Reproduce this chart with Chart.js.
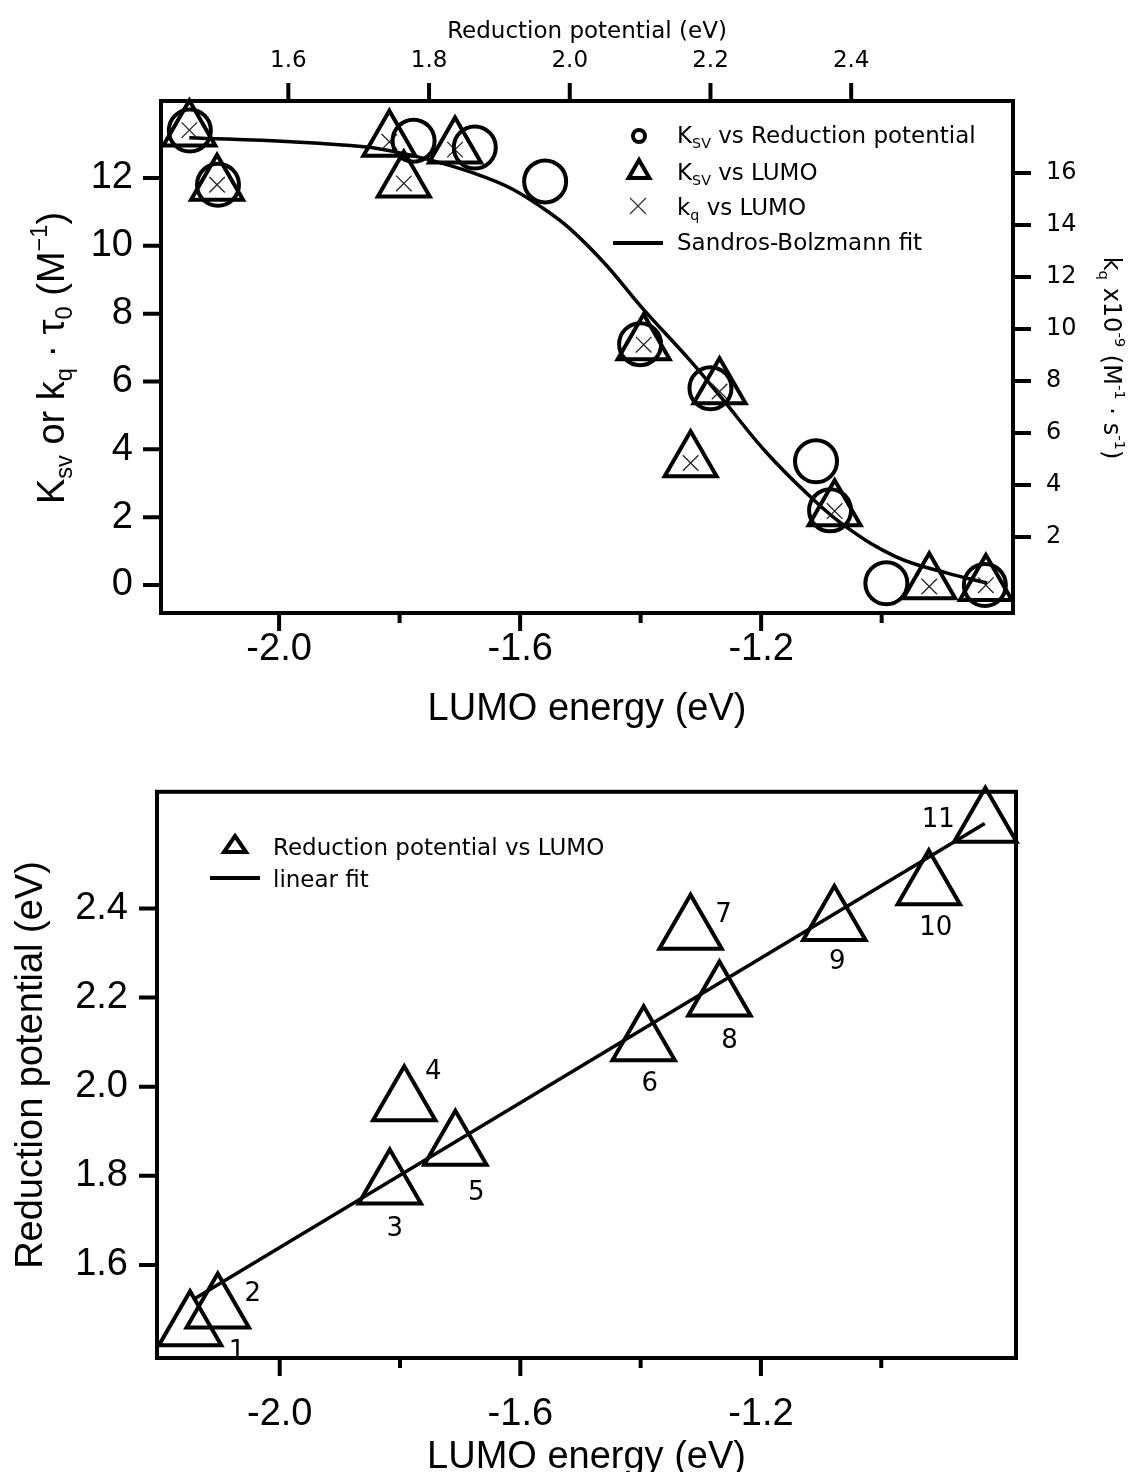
<!DOCTYPE html>
<html>
<head>
<meta charset="utf-8">
<script src="https://cdn.jsdelivr.net/npm/chart.js@4.4.1/dist/chart.umd.min.js"></script>
<style>
html, body { margin: 0; padding: 0; background: #fff; }
#top { position: absolute; left: 0; top: 0; }
#bot { position: absolute; left: 0; top: 740px; }
</style>
</head>
<body>
<canvas id="top" width="1135" height="740"></canvas>
<canvas id="bot" width="1135" height="732"></canvas>
<script>
// compounds 1..11
var compound = ['1', '2', '3', '4', '5', '6', '7', '8', '9', '10', '11'];
var lumo = [-2.149, -2.103, -1.817, -1.793, -1.708, -1.395, -1.317, -1.269, -1.078, -0.921, -0.827];
var redPot = [1.46, 1.50, 1.778, 1.965, 1.865, 2.10, 2.35, 2.20, 2.37, 2.45, 2.59];
var ksv = [13.4, 11.8, 13.1, 11.9, 12.9, 7.1, 3.65, 5.8, 2.2, 0.05, 0.0];
var kq = [17.65, 15.55, 17.2, 15.6, 16.9, 9.4, 4.85, 7.6, 3.0, 0.1, 0.15];

// Sandros-Bolzmann fit
var fitLumo = [-2.149, -1.980, -1.859, -1.799, -1.739, -1.678, -1.618, -1.563, -1.517, -1.458, -1.399, -1.318, -1.265, -1.192, -1.120, -1.061, -0.976, -0.891, -0.825];
var fitKsv = [13.19, 13.07, 12.92, 12.74, 12.48, 12.15, 11.72, 11.12, 10.5, 9.45, 8.2, 6.62, 5.5, 3.92, 2.63, 1.74, 0.83, 0.35, 0.06];

// linear fit of reduction potential vs LUMO
var linLumo = [-2.143, -0.828];
var linRed = [1.523, 2.591];

// ticks
var lumoTicks = [-2.0, -1.8, -1.6, -1.4, -1.2, -1.0];
var lumoTickLabels = ['-2.0', '', '-1.6', '', '-1.2', ''];
var redTicks = [1.6, 1.8, 2.0, 2.2, 2.4];
var redTickLabels = ['1.6', '1.8', '2.0', '2.2', '2.4'];
var ksvTicks = [0, 2, 4, 6, 8, 10, 12];
var ksvTickLabels = ['0', '2', '4', '6', '8', '10', '12'];
var kqTicks = [2, 4, 6, 8, 10, 12, 14, 16];
var kqTickLabels = ['2', '4', '6', '8', '10', '12', '14', '16'];

var BIG = 'Liberation Sans';
var SMALL = 'DejaVu Sans';

function pts(xs, ys) {
    return xs.map(function (x, i) { return { x: x, y: ys[i] }; });
}

function setTicks(values) {
    return function (s) { s.ticks = values.map(function (v) { return { value: v }; }); };
}

function axis(pos, min, max, values, labels, size, fam, pad, fit) {
    return {
        type: 'linear', position: pos, min: min, max: max,
        afterBuildTicks: setTicks(values),
        afterFit: function (s) {
            if (pos === 'top' || pos === 'bottom') s.height = fit; else s.width = fit;
        },
        ticks: {
            autoSkip: false, maxRotation: 0, padding: pad, color: '#000',
            font: { family: fam, size: size },
            callback: function (v, i) { return labels[i]; }
        },
        grid: { display: false, drawTicks: false },
        border: { display: false }
    };
}

function drawTicks(chart, id, values, labels) {
    var s = chart.scales[id], a = chart.chartArea, ctx = chart.ctx;
    ctx.beginPath();
    values.forEach(function (v, i) {
        var l = labels[i] ? 18 : 10;
        var p = s.getPixelForValue(v);
        if (s.position === 'bottom') { ctx.moveTo(p, a.bottom); ctx.lineTo(p, a.bottom + l); }
        else if (s.position === 'top') { ctx.moveTo(p, a.top); ctx.lineTo(p, a.top - l); }
        else if (s.position === 'left') { ctx.moveTo(a.left, p); ctx.lineTo(a.left - l, p); }
        else { ctx.moveTo(a.right, p); ctx.lineTo(a.right + l, p); }
    });
    ctx.stroke();
}

// parts: [text, mode] with mode 0 normal, -1 subscript, 1 superscript
function drawRich(ctx, parts, x, y, size, fam, align) {
    var w = 0;
    parts.forEach(function (p) {
        ctx.font = (p[1] ? size * 0.62 : size) + 'px "' + fam + '"';
        w += ctx.measureText(p[0]).width;
    });
    var cx = align === 'center' ? x - w / 2 : x;
    ctx.textAlign = 'left';
    ctx.textBaseline = 'alphabetic';
    ctx.fillStyle = '#000';
    parts.forEach(function (p) {
        var s = p[1] ? size * 0.62 : size;
        ctx.font = s + 'px "' + fam + '"';
        var dy = p[1] === -1 ? size * 0.22 : (p[1] === 1 ? -size * 0.45 : 0);
        ctx.fillText(p[0], cx, y + dy);
        cx += ctx.measureText(p[0]).width;
    });
}

function rotated(ctx, parts, x, y, angle, size, fam) {
    ctx.save();
    ctx.translate(x, y);
    ctx.rotate(angle);
    drawRich(ctx, parts, 0, 0, size, fam, 'center');
    ctx.restore();
}

function triangle(ctx, x, y, r) {
    ctx.beginPath();
    ctx.moveTo(x, y - r);
    ctx.lineTo(x + r * 0.866, y + r * 0.5);
    ctx.lineTo(x - r * 0.866, y + r * 0.5);
    ctx.closePath();
    ctx.stroke();
}

var common = {
    responsive: false,
    animation: false,
    events: [],
    layout: { padding: 0 },
    plugins: { legend: { display: false }, tooltip: { enabled: false } }
};

// ---------- top chart ----------
var topDeco = {
    id: 'topDeco',
    afterDraw: function (chart) {
        var ctx = chart.ctx, a = chart.chartArea;
        ctx.save();
        ctx.strokeStyle = '#000';
        ctx.lineWidth = 4;
        ctx.strokeRect(a.left, a.top, a.right - a.left, a.bottom - a.top);
        drawTicks(chart, 'x', lumoTicks, lumoTickLabels);
        drawTicks(chart, 'x2', redTicks, redTickLabels);
        drawTicks(chart, 'y', ksvTicks, ksvTickLabels);
        drawTicks(chart, 'y2', kqTicks, kqTickLabels);

        // axis titles
        drawRich(ctx, [['LUMO energy (eV)', 0]], (a.left + a.right) / 2, 720, 38, BIG, 'center');
        drawRich(ctx, [['Reduction potential (eV)', 0]], (a.left + a.right) / 2, 38, 23, SMALL, 'center');
        rotated(ctx, [['K', 0], ['sv', -1], [' or k', 0], ['q', -1], [' \u00b7 \u03c4', 0], ['0', -1],
            [' (M', 0], ['\u22121', 1], [')', 0]], 64, 358, -Math.PI / 2, 38, BIG);
        rotated(ctx, [['k', 0], ['q', -1], [' x10', 0], ['-9', 1], [' (M', 0], ['-1', 1],
            [' \u00b7 s', 0], ['-1', 1], [')', 0]], 1104, 358, Math.PI / 2, 24, SMALL);

        // legend
        ctx.lineWidth = 4;
        ctx.beginPath(); ctx.arc(639, 136, 6, 0, 2 * Math.PI); ctx.stroke();
        ctx.lineJoin = 'miter';
        triangle(ctx, 639, 172, 12);
        ctx.lineWidth = 1.2; ctx.strokeStyle = '#333';
        ctx.beginPath();
        ctx.moveTo(630, 198); ctx.lineTo(646, 214);
        ctx.moveTo(646, 198); ctx.lineTo(630, 214);
        ctx.stroke();
        ctx.strokeStyle = '#000'; ctx.lineWidth = 4;
        ctx.beginPath(); ctx.moveTo(613, 243); ctx.lineTo(663, 243); ctx.stroke();
        drawRich(ctx, [['K', 0], ['SV', -1], [' vs Reduction potential', 0]], 677, 143, 23, SMALL, 'left');
        drawRich(ctx, [['K', 0], ['SV', -1], [' vs LUMO', 0]], 677, 180, 23, SMALL, 'left');
        drawRich(ctx, [['k', 0], ['q', -1], [' vs LUMO', 0]], 677, 215, 23, SMALL, 'left');
        drawRich(ctx, [['Sandros-Bolzmann fit', 0]], 677, 250, 23, SMALL, 'left');
        ctx.restore();
    }
};

new Chart(document.getElementById('top'), {
    type: 'scatter',
    data: {
        datasets: [{
            label: 'KSV vs Reduction potential',
            data: pts(redPot, ksv), xAxisID: 'x2', yAxisID: 'y',
            pointStyle: 'circle', pointRadius: 21, borderWidth: 4,
            borderColor: '#000', backgroundColor: 'rgba(0,0,0,0)', clip: false
        }, {
            label: 'KSV vs LUMO',
            data: pts(lumo, ksv), xAxisID: 'x', yAxisID: 'y',
            pointStyle: 'triangle', pointRadius: 30, borderWidth: 4,
            borderColor: '#000', backgroundColor: 'rgba(0,0,0,0)', clip: false
        }, {
            label: 'kq vs LUMO',
            data: pts(lumo, kq), xAxisID: 'x', yAxisID: 'y2',
            pointStyle: 'crossRot', pointRadius: 11, borderWidth: 1.3,
            borderColor: '#222', backgroundColor: 'rgba(0,0,0,0)', clip: false
        }, {
            label: 'Sandros-Bolzmann fit',
            data: pts(fitLumo, fitKsv), xAxisID: 'x', yAxisID: 'y',
            showLine: true, pointRadius: 0, borderWidth: 3.5, tension: 0.4,
            borderColor: '#000', clip: false
        }]
    },
    options: Object.assign({}, common, {
        scales: {
            x: axis('bottom', -2.196, -0.782, lumoTicks, lumoTickLabels, 38, BIG, 14, 127),
            x2: axis('top', 1.419, 2.630, redTicks, redTickLabels, 23, SMALL, 26, 101),
            y: axis('left', -0.826, 14.27, ksvTicks, ksvTickLabels, 38, BIG, 28, 161),
            y2: axis('right', -0.92, 18.77, kqTicks, kqTickLabels, 24, SMALL, 33, 122)
        }
    }),
    plugins: [topDeco]
});

// ---------- bottom chart ----------
var labelOffsets = [[47, 25], [35, -15], [5, 44], [29, -30], [21, 46], [6, 42], [33, -16], [10, 44], [3, 40], [7, 42], [-47, -4]];

var botDeco = {
    id: 'botDeco',
    afterDraw: function (chart) {
        var ctx = chart.ctx, a = chart.chartArea;
        var sx = chart.scales.x, sy = chart.scales.y;
        ctx.save();
        ctx.strokeStyle = '#000';
        ctx.lineWidth = 4;
        ctx.strokeRect(a.left, a.top, a.right - a.left, a.bottom - a.top);
        drawTicks(chart, 'x', lumoTicks, lumoTickLabels);
        drawTicks(chart, 'y', redTicks, redTickLabels);

        drawRich(ctx, [['LUMO energy (eV)', 0]], (a.left + a.right) / 2, 728, 38, BIG, 'center');
        rotated(ctx, [['Reduction potential (eV)', 0]], 42, 325, -Math.PI / 2, 38, BIG);

        // compound numbers
        ctx.font = '26px "' + SMALL + '"';
        ctx.textAlign = 'center';
        ctx.textBaseline = 'middle';
        ctx.fillStyle = '#000';
        compound.forEach(function (c, i) {
            ctx.fillText(c, sx.getPixelForValue(lumo[i]) + labelOffsets[i][0],
                sy.getPixelForValue(redPot[i]) + labelOffsets[i][1]);
        });

        // legend
        ctx.lineWidth = 4;
        ctx.lineJoin = 'miter';
        ctx.beginPath();
        ctx.moveTo(235, 96); ctx.lineTo(246, 112); ctx.lineTo(224, 112); ctx.closePath();
        ctx.stroke();
        ctx.lineWidth = 4;
        ctx.beginPath(); ctx.moveTo(210, 138); ctx.lineTo(260, 138); ctx.stroke();
        drawRich(ctx, [['Reduction potential vs LUMO', 0]], 273, 115, 23, SMALL, 'left');
        drawRich(ctx, [['linear fit', 0]], 273, 147, 23, SMALL, 'left');
        ctx.restore();
    }
};

new Chart(document.getElementById('bot'), {
    type: 'scatter',
    data: {
        datasets: [{
            label: 'Reduction potential vs LUMO',
            data: pts(lumo, redPot),
            pointStyle: 'triangle', pointRadius: 36, borderWidth: 4,
            borderColor: '#000', backgroundColor: 'rgba(0,0,0,0)', clip: false
        }, {
            label: 'linear fit',
            data: pts(linLumo, linRed),
            showLine: true, pointRadius: 0, borderWidth: 3.5,
            borderColor: '#000', clip: false
        }]
    },
    options: Object.assign({}, common, {
        layout: { padding: { top: 28, right: 119 } },
        scales: {
            x: axis('bottom', -2.204, -0.776, lumoTicks, lumoTickLabels, 38, BIG, 34, 114),
            y: axis('left', 1.391, 2.662, redTicks, redTickLabels, 38, BIG, 29, 157)
        }
    }),
    plugins: [botDeco]
});
</script>
</body>
</html>
